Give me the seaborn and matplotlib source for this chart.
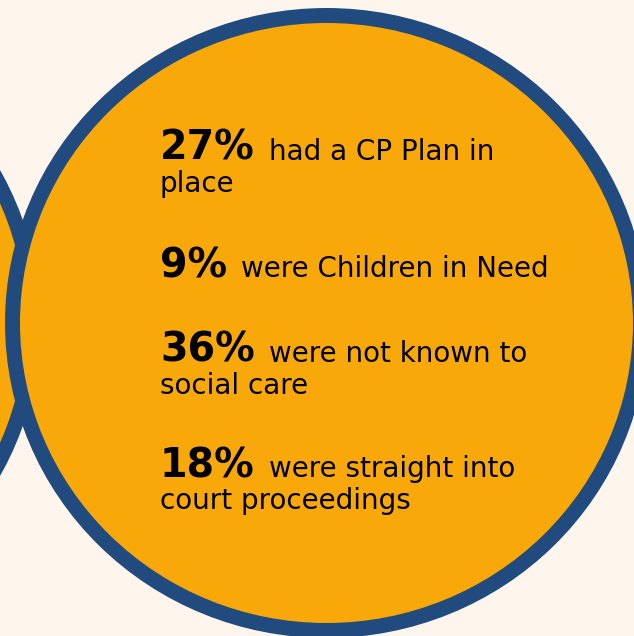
import matplotlib
matplotlib.use("Agg")
import matplotlib.pyplot as plt
import seaborn as sns
from matplotlib.patches import Ellipse

sns.set_theme(style="white")
plt.rcParams["font.family"] = ["DejaVu Sans"]

# ---------- Data ----------
percentages = ["27%", "9%", "36%", "18%"]
first_lines = ["had a CP Plan in", "were Children in Need", "were not known to", "were straight into"]
second_lines = ["place", "", "social care", "court proceedings"]

# ---------- Style ----------
BG = "#FEF6EC"
ORANGE = "#F8A909"
BLUE = "#214B7E"

W, H = 634, 636
fig = plt.figure(figsize=(W / 100, H / 100), dpi=100, facecolor=BG)
ax = fig.add_axes([0, 0, 1, 1])
ax.set_xlim(0, W)
ax.set_ylim(H, 0)
ax.set_facecolor(BG)
ax.axis("off")

# partially visible circle on the left, then the main circle on top
for cx in (-281, 326.5):
    ax.add_patch(Ellipse((cx, 323), 2 * 314, 2 * 307.5,
                         facecolor=ORANGE, edgecolor=BLUE, linewidth=10.8))

# ---------- Text ----------
x0 = 160
baselines = [160, 277, 362, 477]
line_gap = 32

fig.canvas.draw()
renderer = fig.canvas.get_renderer()
inv = ax.transData.inverted()
for pct, l1, l2, y in zip(percentages, first_lines, second_lines, baselines):
    t = ax.text(x0, y, pct, fontsize=28.5, fontweight="heavy", color="black", va="baseline", ha="left")
    bb = t.get_window_extent(renderer=renderer)
    x_end = inv.transform((bb.x1, bb.y0))[0]
    ax.text(x_end + 14, y, l1, fontsize=20, color="black", va="baseline", ha="left")
    if l2:
        ax.text(x0, y + line_gap, l2, fontsize=20, color="black", va="baseline", ha="left")

fig.savefig("out.png", dpi=100, facecolor=BG)
